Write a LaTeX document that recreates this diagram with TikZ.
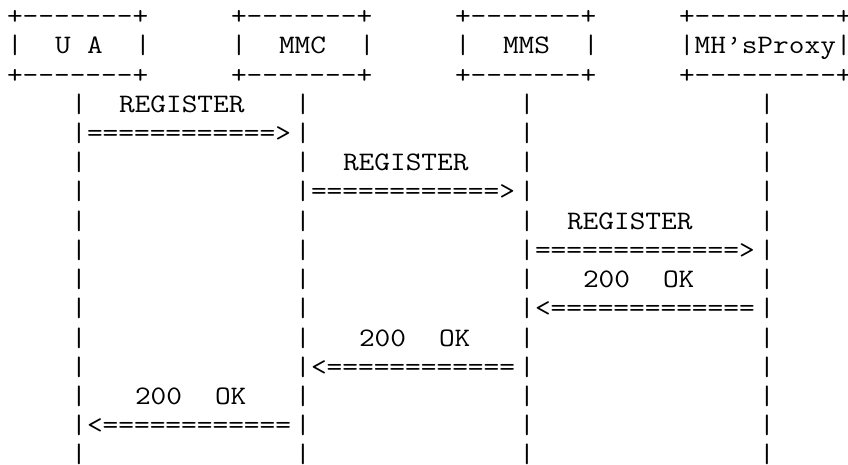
\documentclass[tikz,border=0pt]{standalone}
\usepackage{graphicx}
\newcommand\ascseg[4]{%
  \node[asc] (#1) at ({7pt+16pt*#3},{-24.8pt-29.2pt*(#2-1)}) {\scalebox{1.1428}[1]{#4}};}
\tikzset{asc/.style={anchor=base west,inner sep=0pt,outer sep=0pt,text=black,
  font=\ttfamily\fontsize{26.67pt}{29.2pt}\selectfont}}
\begin{document}
\begin{tikzpicture}
\fill[white] (0,0) rectangle (848pt,-465pt);
\useasboundingbox (0,0) rectangle (848pt,-465pt);
% header boxes
\ascseg{ua-top}{1}{0}{+-------+}
\ascseg{mmc-top}{1}{14}{+-------+}
\ascseg{mms-top}{1}{28}{+-------+}
\ascseg{mh-top}{1}{42}{+---------+}
\ascseg{ua-l}{2}{0}{|}
\ascseg{ua-t1}{2}{3}{U}
\ascseg{ua-t2}{2}{5}{A}
\ascseg{ua-r}{2}{8}{|}
\ascseg{mmc-l}{2}{14}{|}
\ascseg{mmc-t}{2}{17}{MMC}
\ascseg{mmc-r}{2}{22}{|}
\ascseg{mms-l}{2}{28}{|}
\ascseg{mms-t}{2}{31}{MMS}
\ascseg{mms-r}{2}{36}{|}
\ascseg{mh-t}{2}{42}{|MH’sProxy|}
\ascseg{ua-bot}{3}{0}{+-------+}
\ascseg{mmc-bot}{3}{14}{+-------+}
\ascseg{mms-bot}{3}{28}{+-------+}
\ascseg{mh-bot}{3}{42}{+---------+}
% lifelines
\foreach \r in {4,...,16}{
  \foreach \c in {4,18,32,47}{
    \ascseg{bar-\r-\c}{\r}{\c}{|}
  }
}
% messages
\ascseg{m1-lab}{4}{7}{REGISTER}
\ascseg{m1-arr}{5}{5}{============>}
\ascseg{m2-lab}{6}{21}{REGISTER}
\ascseg{m2-arr}{7}{19}{============>}
\ascseg{m3-lab}{8}{35}{REGISTER}
\ascseg{m3-arr}{9}{33}{=============>}
\ascseg{m4-a}{10}{36}{200}
\ascseg{m4-b}{10}{41}{OK}
\ascseg{m4-arr}{11}{33}{<=============}
\ascseg{m5-a}{12}{22}{200}
\ascseg{m5-b}{12}{27}{OK}
\ascseg{m5-arr}{13}{19}{<============}
\ascseg{m6-a}{14}{8}{200}
\ascseg{m6-b}{14}{13}{OK}
\ascseg{m6-arr}{15}{5}{<============}
\end{tikzpicture}
\end{document}
